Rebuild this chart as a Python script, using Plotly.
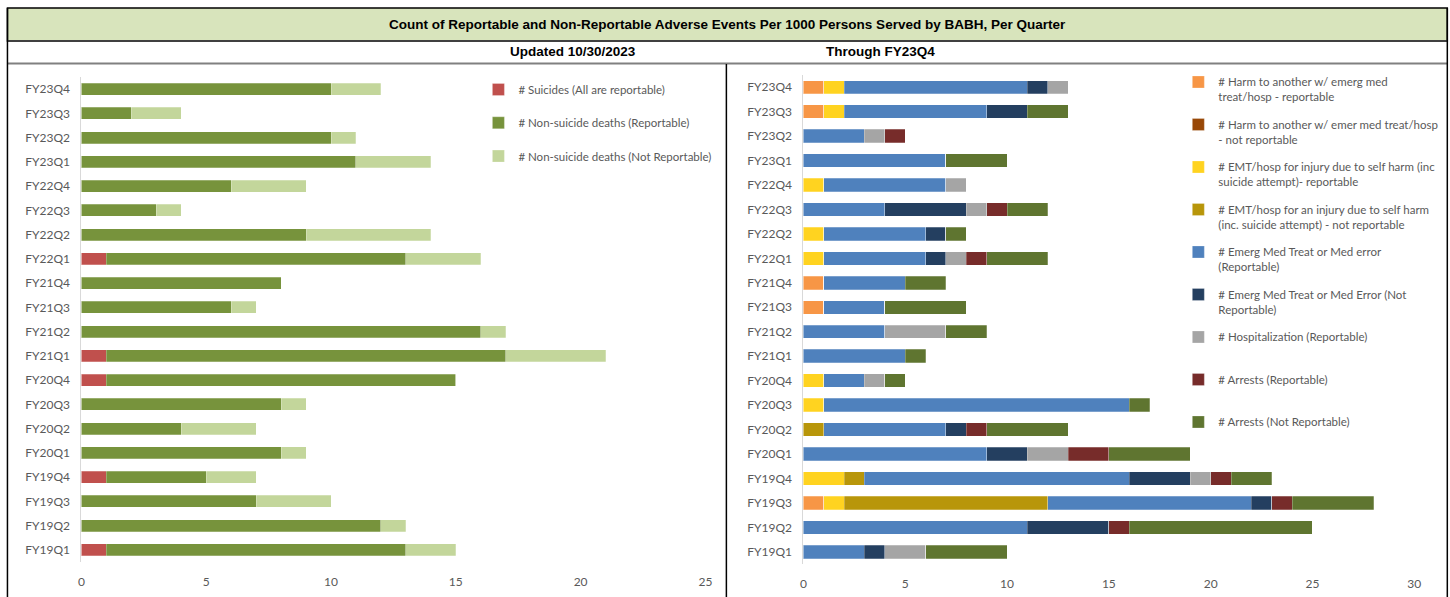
import plotly.graph_objects as go

W, H = 1450, 597

quarters = ["FY19Q1", "FY19Q2", "FY19Q3", "FY19Q4", "FY20Q1", "FY20Q2", "FY20Q3", "FY20Q4",
            "FY21Q1", "FY21Q2", "FY21Q3", "FY21Q4", "FY22Q1", "FY22Q2", "FY22Q3", "FY22Q4",
            "FY23Q1", "FY23Q2", "FY23Q3", "FY23Q4"]

# Left chart (deaths)
suicides          = [1, 0, 0, 1, 0, 0, 0, 1, 1, 0, 0, 0, 1, 0, 0, 0, 0, 0, 0, 0]
nonsuicide_rep    = [12, 12, 7, 4, 8, 4, 8, 14, 16, 16, 6, 8, 12, 9, 3, 6, 11, 10, 2, 10]
nonsuicide_notrep = [2, 1, 3, 2, 1, 3, 1, 0, 4, 1, 1, 0, 3, 5, 1, 3, 3, 1, 2, 2]

# Right chart (other adverse events)
harm_rep        = [0, 0, 1, 0, 0, 0, 0, 0, 0, 0, 1, 1, 0, 0, 0, 0, 0, 0, 1, 1]
harm_notrep     = [0] * 20
emt_rep         = [0, 0, 1, 2, 0, 0, 1, 1, 0, 0, 0, 0, 1, 1, 0, 1, 0, 0, 1, 1]
emt_notrep      = [0, 0, 10, 1, 0, 1, 0, 0, 0, 0, 0, 0, 0, 0, 0, 0, 0, 0, 0, 0]
emerg_rep       = [3, 11, 10, 13, 9, 6, 15, 2, 5, 4, 3, 4, 5, 5, 4, 6, 7, 3, 7, 9]
emerg_notrep    = [1, 4, 1, 3, 2, 1, 0, 0, 0, 0, 0, 0, 1, 1, 4, 0, 0, 0, 2, 1]
hosp_rep        = [2, 0, 0, 1, 2, 0, 0, 1, 0, 3, 0, 0, 1, 0, 1, 1, 0, 1, 0, 1]
arrests_rep     = [0, 1, 1, 1, 2, 1, 0, 0, 0, 0, 0, 0, 1, 0, 1, 0, 0, 1, 0, 0]
arrests_notrep  = [4, 9, 4, 2, 4, 4, 1, 1, 1, 2, 4, 2, 3, 1, 2, 0, 3, 0, 2, 0]

left_names = ["# Suicides (All are reportable)", "# Non-suicide deaths (Reportable)",
              "# Non-suicide deaths (Not Reportable)"]
left_colors = ["#C0504D", "#77933C", "#C3D69B"]

right_names = ["# Harm to another w/ emerg med<br>treat/hosp - reportable",
               "# Harm to another w/ emer med treat/hosp<br>- not reportable",
               "# EMT/hosp for injury due to self harm (inc<br>suicide attempt)- reportable",
               "# EMT/hosp for an injury due to self harm<br>(inc. suicide attempt) - not reportable",
               "# Emerg Med Treat or Med error<br>(Reportable)",
               "# Emerg Med Treat or Med Error (Not<br>Reportable)",
               "# Hospitalization (Reportable)<br> ",
               "# Arrests (Reportable)<br> ",
               "# Arrests (Not Reportable)<br> "]
right_colors = ["#F79646", "#984807", "#FFD320", "#B8960A", "#4F81BD", "#243F60",
                "#A5A5A5", "#772C2A", "#5F7530"]

left_series = [suicides, nonsuicide_rep, nonsuicide_notrep]
right_series = [harm_rep, harm_notrep, emt_rep, emt_notrep, emerg_rep, emerg_notrep,
                hosp_rep, arrests_rep, arrests_notrep]


def px(x):
    return (x - 2.55) / 0.9932 / W


def py(y):
    return 1 - y / H


fig = go.Figure()

for i, (vals, name, col) in enumerate(zip(left_series, left_names, left_colors)):
    fig.add_trace(go.Bar(
        y=quarters, x=vals, name=name, orientation="h", width=0.5,
        marker=dict(color=col, line=dict(color="rgba(255,255,255,0.5)", width=0.5)),
        xaxis="x", yaxis="y", legend="legend", legendgroup="L%d" % i))

for i, (vals, name, col) in enumerate(zip(right_series, right_names, right_colors)):
    fig.add_trace(go.Bar(
        y=quarters, x=vals, name=name, orientation="h", width=0.55,
        marker=dict(color=col, line=dict(color="rgba(255,255,255,0.5)", width=0.5)),
        xaxis="x2", yaxis="y2", legend="legend2", legendgroup="R%d" % i))

tickfont = dict(family="Lato, Carlito, Liberation Sans", size=12, color="#595959")
legfont = dict(family="Lato, Carlito, Liberation Sans", size=11.5, color="#595959")

shapes = [
    dict(type="rect", xref="paper", yref="paper", x0=px(7), x1=px(1447), y0=py(8), y1=py(41),
         fillcolor="#D8E4BC", line=dict(color="#000000", width=1.5), layer="below"),
    dict(type="line", xref="paper", yref="paper", x0=px(7), x1=px(1447), y0=py(41), y1=py(41),
         line=dict(color="#404040", width=2)),
    dict(type="line", xref="paper", yref="paper", x0=px(7), x1=px(1447), y0=py(63.5), y1=py(63.5),
         line=dict(color="#808080", width=2)),
    dict(type="line", xref="paper", yref="paper", x0=px(7), x1=px(7), y0=py(8), y1=py(597),
         line=dict(color="#000000", width=1.5)),
    dict(type="line", xref="paper", yref="paper", x0=px(1447), x1=px(1447), y0=py(8), y1=py(597),
         line=dict(color="#000000", width=1.5)),
    dict(type="line", xref="paper", yref="paper", x0=px(726), x1=px(726), y0=py(64), y1=py(597),
         line=dict(color="#000000", width=1.5)),
]

hdr_font = dict(family="Liberation Sans Narrow, Arial Narrow, Liberation Sans", size=13.5,
                color="#000000")
annotations = [
    dict(text="<b>Count of Reportable and Non-Reportable Adverse Events Per 1000 Persons Served by BABH, Per Quarter</b>",
         xref="paper", yref="paper", x=px(727), y=py(24.5), showarrow=False, font=hdr_font,
         xanchor="center", yanchor="middle"),
    dict(text="<b>Updated 10/30/2023</b>", xref="paper", yref="paper", x=px(573), y=py(52),
         showarrow=False, font=hdr_font, xanchor="center", yanchor="middle"),
    dict(text="<b>Through FY23Q4</b>", xref="paper", yref="paper", x=px(880), y=py(52),
         showarrow=False, font=hdr_font, xanchor="center", yanchor="middle"),
]

axis_common = dict(showgrid=False, zeroline=False, tickfont=tickfont)

fig.update_layout(
    width=W, height=H, margin=dict(l=0, r=0, t=0, b=0),
    paper_bgcolor="white", plot_bgcolor="white", barmode="stack",
    showlegend=True,
    xaxis=dict(domain=[px(81), px(705)], range=[0, 25], dtick=5, anchor="y",
               ticks="outside", ticklen=9, tickcolor="rgba(0,0,0,0)", showline=False,
               **axis_common),
    yaxis=dict(domain=[py(562), py(77)], range=[-0.5, 19.5], anchor="x", type="category",
               showline=True, linecolor="#D9D9D9", linewidth=1,
               ticks="outside", ticklen=8, tickcolor="rgba(0,0,0,0)", **axis_common),
    xaxis2=dict(domain=[px(803), px(1414)], range=[0, 30], dtick=5, anchor="y2",
                ticks="outside", ticklen=9, tickcolor="rgba(0,0,0,0)", showline=False,
                **axis_common),
    yaxis2=dict(domain=[py(564), py(75)], range=[-0.5, 19.5], anchor="x2", type="category",
                showline=True, linecolor="#D9D9D9", linewidth=1,
                ticks="outside", ticklen=8, tickcolor="rgba(0,0,0,0)", **axis_common),
    legend=dict(x=px(478), y=py(75), xanchor="left", yanchor="top", traceorder="grouped",
                tracegroupgap=14.3, bgcolor="rgba(0,0,0,0)", font=legfont),
    legend2=dict(x=px(1178), y=py(68), xanchor="left", yanchor="top", traceorder="grouped",
                 tracegroupgap=9.6, valign="top", bgcolor="rgba(0,0,0,0)", font=legfont),
    shapes=shapes, annotations=annotations,
)

fig.write_html("out.html")
